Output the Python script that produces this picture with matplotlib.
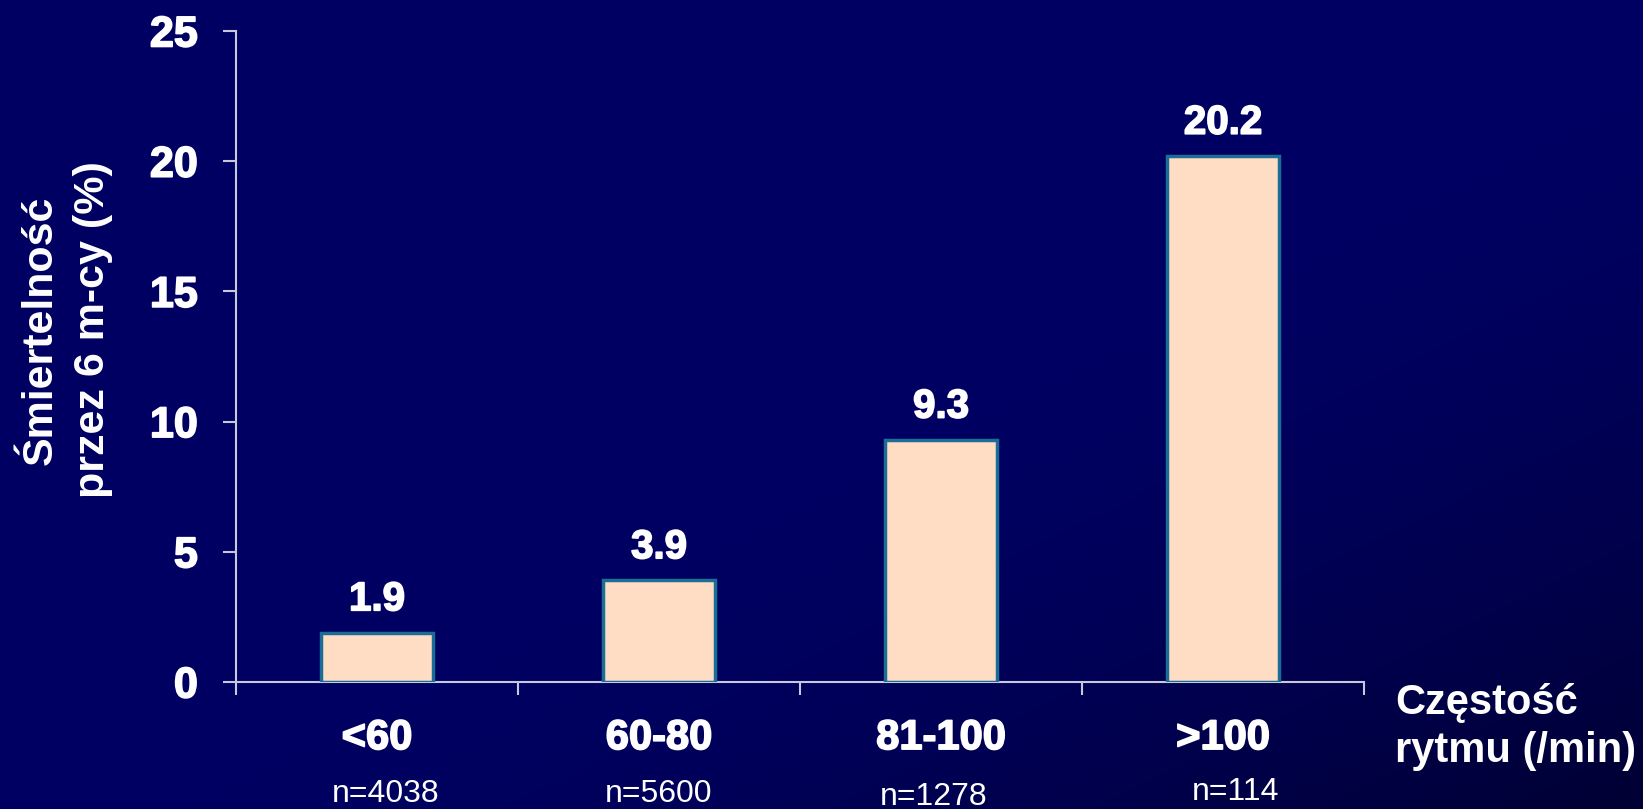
import numpy as np
import matplotlib
matplotlib.use('Agg')
import matplotlib.pyplot as plt
import matplotlib.patheffects as pe
from matplotlib.colors import LinearSegmentedColormap

# dane: śmiertelność 6-miesięczna wg częstości rytmu
kategorie = ['<60', '60-80', '81-100', '>100']
smiertelnosc = [1.9, 3.9, 9.3, 20.2]
liczebnosc = ['n=4038', 'n=5600', 'n=1278', 'n=114']
y_ticks = [0, 5, 10, 15, 20, 25]

# drobne przesunięcia podpisów n= (w jednostkach kategorii)
n_dx = [0.03, 0.0, -0.025, 0.045]
n_y = [802, 802, 805, 800]

plt.rcParams['font.family'] = ['Liberation Sans', 'DejaVu Sans']

fig = plt.figure(figsize=(16.43, 8.09), dpi=100)

# tło - granat ciemniejący w prawym dolnym rogu
bg = fig.add_axes([0, 0, 1, 1], zorder=-1)
xx, yy = np.meshgrid(np.linspace(0, 1, 400), np.linspace(0, 1, 200))
t = (xx + yy) / 2
t = np.clip((t - 0.55) / 0.45, 0, 1) ** 1.5
cmap = LinearSegmentedColormap.from_list('tlo', ['#000062', '#000034'])
bg.imshow(t, cmap=cmap, aspect='auto', extent=[0, 1, 0, 1], origin='upper')
bg.axis('off')

W, H = 1643, 809
ax = fig.add_axes([236 / W, 1 - 682 / H, (1364 - 236) / W, (682 - 31) / H])
ax.set_facecolor('none')

x = np.arange(len(kategorie))
ax.bar(x, smiertelnosc, width=0.4, color='#ffdcc4', edgecolor='#1a6e96', linewidth=2.5, zorder=3)

gruby = [pe.withStroke(linewidth=1.2, foreground='white')]

for xi, v in zip(x, smiertelnosc):
    ax.annotate(f'{v:.1f}', (xi, v), xytext=(0, 16), textcoords='offset points',
                ha='center', va='baseline', color='white', fontsize=29,
                fontweight='bold', path_effects=gruby)

ax.set_xlim(-0.5, len(kategorie) - 0.5)
ax.set_ylim(0, 25)

for s in ['top', 'right']:
    ax.spines[s].set_visible(False)
for s in ['left', 'bottom']:
    ax.spines[s].set_color('#c8c8dc')
    ax.spines[s].set_linewidth(1.5)

ax.set_yticks(y_ticks)
ax.set_yticklabels([str(v) for v in y_ticks])
ax.set_xticks(np.arange(len(kategorie) + 1) - 0.5)
ax.set_xticklabels([])
ax.set_xticks(x, minor=True)
ax.set_xticklabels(kategorie, minor=True)

ax.tick_params(axis='both', which='major', direction='out', length=9.5, width=1.5, color='#c8c8dc')
ax.tick_params(axis='y', pad=18, labelsize=31, labelcolor='white')
ax.tick_params(axis='x', which='minor', length=0, pad=26, labelsize=30, labelcolor='white')
for lab in ax.get_yticklabels() + ax.get_xticklabels(minor=True):
    lab.set_fontweight('bold')
    lab.set_path_effects(gruby)

for xi, lab, dx, yp in zip(x, liczebnosc, n_dx, n_y):
    fig.text((236 + (xi + 0.5 + dx) * 282) / W, 1 - yp / H, lab, ha='center', va='baseline',
             color='white', fontsize=23)

fig.text(67 / W, 1 - 330 / H, 'Śmiertelność\nprzez 6 m-cy (%)', rotation=90, ha='center',
         va='center', multialignment='center', color='white', fontsize=31, fontweight='bold',
         linespacing=1.4)

fig.text(1395 / W, 1 - 727 / H, 'Częstość\nrytmu (/min)', ha='left', va='center',
         color='white', fontsize=30, fontweight='bold', linespacing=1.25)

fig.savefig('out.png', dpi=100)
